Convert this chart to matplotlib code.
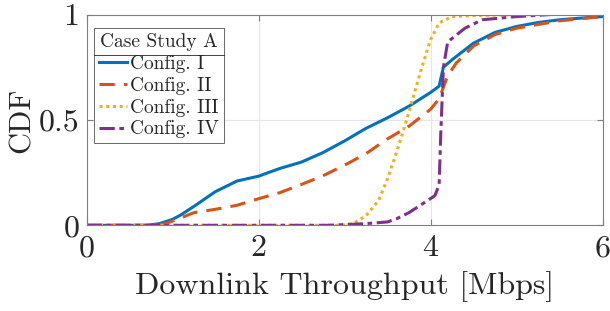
import matplotlib
matplotlib.use("Agg")
import matplotlib.pyplot as plt
from matplotlib.lines import Line2D

plt.rcParams['font.family'] = 'serif'
plt.rcParams['font.serif'] = ['cmr10', 'DejaVu Serif']
plt.rcParams['mathtext.fontset'] = 'cm'
plt.rcParams['axes.formatter.use_mathtext'] = True

labels = ["Config. I", "Config. II", "Config. III", "Config. IV"]
colors = ["#0072BD", "#D95319", "#EDB120", "#7E2F8E"]
styles = ["-", (0, (5, 3)), (0, (1, 1.2)), (0, (5, 1.5, 1.5, 1.5))]

x1 = [0.0, 0.7, 0.85, 1.0, 1.1, 1.25, 1.5, 1.75, 2.0, 2.25, 2.5, 2.75, 3.0, 3.25, 3.5, 3.75,
      4.0, 4.1, 4.15, 4.25, 4.5, 4.75, 5.0, 5.25, 5.5, 5.75, 6.0]
y1 = [0.0, 0.0, 0.008, 0.028, 0.05, 0.09, 0.16, 0.21, 0.233, 0.27, 0.30, 0.345, 0.40, 0.46, 0.51, 0.565,
      0.63, 0.66, 0.75, 0.785, 0.864, 0.915, 0.943, 0.962, 0.975, 0.983, 0.99]

x2 = [0.0, 0.8, 0.9, 1.0, 1.25, 1.5, 1.75, 2.0, 2.25, 2.5, 2.75, 3.0, 3.25, 3.5, 3.75, 4.0, 4.1,
      4.2, 4.3, 4.5, 4.75, 5.0, 5.5, 6.0]
y2 = [0.0, 0.0, 0.005, 0.02, 0.06, 0.076, 0.095, 0.126, 0.155, 0.194, 0.235, 0.285, 0.34, 0.41, 0.47,
      0.55, 0.60, 0.71, 0.77, 0.85, 0.905, 0.935, 0.97, 0.99]

x3 = [0.0, 2.9, 3.0, 3.1, 3.25, 3.4, 3.5, 3.6, 3.7, 3.8, 3.9, 4.0, 4.1, 4.25, 4.5, 5.0, 5.3]
y3 = [0.0, 0.0, 0.002, 0.008, 0.045, 0.12, 0.22, 0.34, 0.47, 0.61, 0.75, 0.88, 0.96, 0.99, 0.995, 0.999, 1.0]

x4 = [0.0, 2.8, 3.0, 3.25, 3.5, 3.6, 3.75, 3.9, 4.05, 4.1, 4.12, 4.15, 4.2, 4.4, 4.6, 5.0, 5.4]
y4 = [0.0, 0.0, 0.003, 0.008, 0.016, 0.03, 0.06, 0.10, 0.14, 0.19, 0.44, 0.75, 0.87, 0.935, 0.975, 0.99, 1.0]

xs = [x1, x2, x3, x4]
ys = [y1, y2, y3, y4]

xticks = [0, 2, 4, 6]
yticks = [0, 0.5, 1]

fig = plt.figure(figsize=(6.1, 3.11), dpi=100)
ax = fig.add_axes([86.5 / 610, (311 - 225.3) / 311, 516 / 610, 210.8 / 311])

for x, y, c, s, l in zip(xs, ys, colors, styles, labels):
    ax.plot(x, y, color=c, linestyle=s, lw=2.2, label=l)

ax.set_xlim(0, 6)
ax.set_ylim(0, 1)
ax.set_xticks(xticks)
ax.set_yticks(yticks)
ax.set_xticklabels([str(t) for t in xticks])
ax.set_yticklabels(["0", "0.5", "1"])
ax.grid(True, color="#e6e6e6", lw=0.8)
ax.set_axisbelow(True)
ax.tick_params(direction="in", top=True, right=True, length=4, width=0.8,
               color="#7f7f7f", labelsize=23, labelcolor="#262626")
ax.tick_params(axis="x", pad=7)
ax.tick_params(axis="y", pad=5)
for sp in ax.spines.values():
    sp.set_color("#7f7f7f")
    sp.set_linewidth(0.8)

ax.set_xlabel("Downlink Throughput [Mbps]", fontsize=23, color="#262626", labelpad=6)
ax.set_ylabel("CDF", fontsize=22, color="#262626", labelpad=2)

leg = ax.legend(title="Case Study A", loc="upper left", bbox_to_anchor=(0.0145, 0.962 - 5.5 / 210.8),
                fontsize=14, title_fontsize=14, frameon=True, fancybox=False,
                edgecolor="#262626", handlelength=1.45, handletextpad=0.15,
                labelspacing=0.2, borderpad=0.25, borderaxespad=0.0)
leg.get_frame().set_linewidth(0.6)
for t in leg.get_texts():
    t.set_color("#262626")
leg.get_title().set_color("#262626")

fig.canvas.draw()
frame_bb = leg.get_frame().get_window_extent()
title_bb = leg.get_title().get_window_extent()
ysep = title_bb.y0 - 4
inv = fig.transFigure.inverted()
(fx0, fy), = inv.transform([(frame_bb.x0, ysep)])
(fx1, _), = inv.transform([(frame_bb.x1, ysep)])
fig.add_artist(Line2D([fx0, fx1], [fy, fy], transform=fig.transFigure,
                      color="#262626", lw=0.6, zorder=10))

fig.savefig("out.png", dpi=100)
